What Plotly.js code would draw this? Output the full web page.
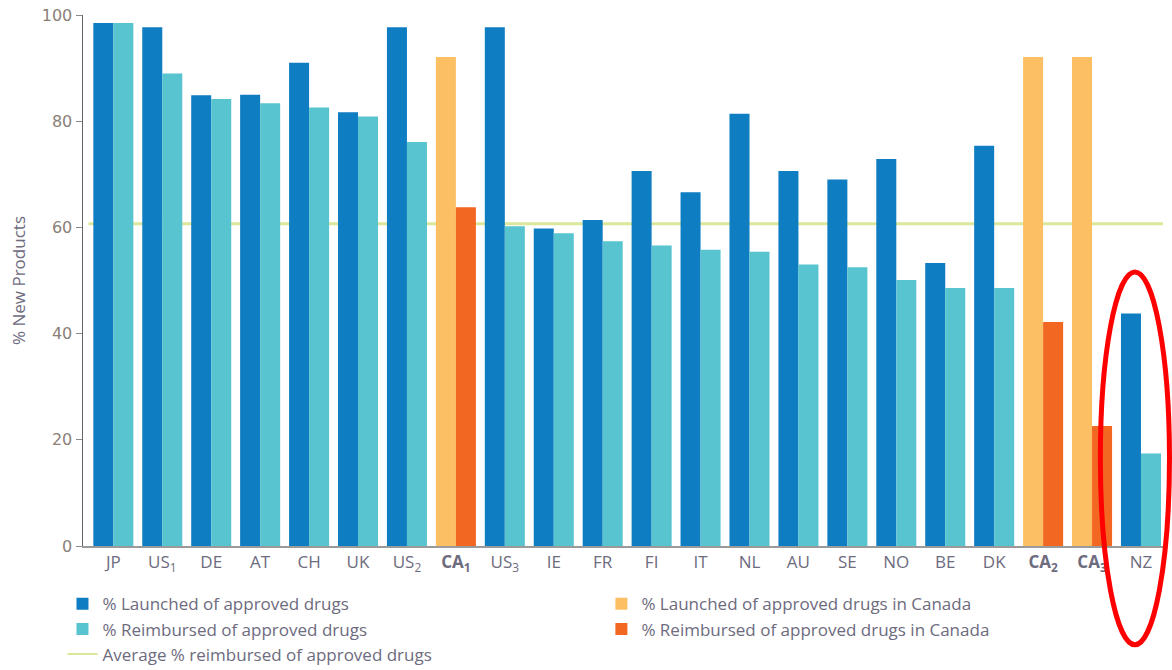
<!DOCTYPE html>
<html>
<head>
<meta charset="utf-8">
<script src="https://cdn.plot.ly/plotly-3.0.1.min.js"></script>
<style>html,body{margin:0;padding:0;background:#fff;}#chart{width:1172px;height:670px;}</style>
</head>
<body>
<div id="chart"></div>
<script>
const categories = ["JP","US<sub>1</sub>","DE","AT","CH","UK","US<sub>2</sub>","<b>CA<sub>1</sub></b>","US<sub>3</sub>","IE","FR","FI","IT","NL","AU","SE","NO","BE","DK","<b>CA<sub>2</sub></b>","<b>CA<sub>3</sub></b>","NZ"];
const launched     = [98.5, 97.7, 84.9, 85.0, 91.0, 81.7, 97.7, null, 97.7, 59.8, 61.4, 70.6, 66.6, 81.4, 70.6, 69.0, 72.9, 53.3, 75.4, null, null, 43.8];
const reimbursed   = [98.5, 89.0, 84.2, 83.4, 82.6, 80.9, 76.1, null, 60.2, 58.9, 57.4, 56.6, 55.8, 55.4, 53.0, 52.5, 50.1, 48.6, 48.6, null, null, 17.4];
const launchedCA   = [null, null, null, null, null, null, null, 92.1, null, null, null, null, null, null, null, null, null, null, null, 92.1, 92.1, null];
const reimbursedCA = [null, null, null, null, null, null, null, 63.8, null, null, null, null, null, null, null, null, null, null, null, 42.2, 22.6, null];
const avgReimbursed = 60.7;
const yTicks = [0, 20, 40, 60, 80, 100];

const C_L = "#0f7dc2", C_R = "#57c4cf", C_LCA = "#fdbf63", C_RCA = "#f26722", C_AVG = "#dbe89a";
const txt = "#6d6b7e";

const traces = [
  {type:"bar", x:categories, y:launched, name:"% Launched of approved drugs", marker:{color:C_L}, offsetgroup:"a", legend:"legend"},
  {type:"bar", x:categories, y:reimbursed, name:"% Reimbursed of approved drugs", marker:{color:C_R}, offsetgroup:"b", legend:"legend"},
  {type:"scatter", mode:"lines", x:[categories[0]], y:[avgReimbursed], name:"Average % reimbursed of approved drugs", line:{color:C_AVG, width:2}, legend:"legend", hoverinfo:"skip"},
  {type:"bar", x:categories, y:launchedCA, name:"% Launched of approved drugs in Canada", marker:{color:C_LCA}, offsetgroup:"a", legend:"legend2"},
  {type:"bar", x:categories, y:reimbursedCA, name:"% Reimbursed of approved drugs in Canada", marker:{color:C_RCA}, offsetgroup:"b", legend:"legend2"}
];

const layout = {
  width:1172, height:670,
  margin:{l:83, r:9, t:15, b:124},
  paper_bgcolor:"#fff", plot_bgcolor:"#fff",
  font:{family:"Open Sans, sans-serif", size:16, color:txt},
  barmode:"group", bargap:0.182, bargroupgap:0,
  showlegend:true,
  xaxis:{type:"category", range:[-0.62, 21.45], showgrid:false, zeroline:false, showline:true, linecolor:"#9a9a9a", linewidth:2, ticks:"", tickfont:{size:17, color:txt}, fixedrange:true},
  yaxis:{range:[0,100], tickvals:yTicks, showgrid:false, zeroline:false, showline:true, linecolor:"#666", linewidth:1.5, ticks:"outside", ticklen:6, tickcolor:"#888", tickfont:{family:"DejaVu Sans, sans-serif", size:16, color:"#8a8078"}, title:{text:"% New Products", font:{size:17, color:txt}, standoff:12}, fixedrange:true},
  legend:{x:-0.019, xanchor:"left", xref:"paper", yref:"container", y:0.125, yanchor:"top", orientation:"v", font:{size:17, color:txt}, bgcolor:"rgba(0,0,0,0)", itemwidth:30, tracegroupgap:0},
  legend2:{x:0.48, xanchor:"left", xref:"paper", yref:"container", y:0.125, yanchor:"top", orientation:"v", font:{size:17, color:txt}, bgcolor:"rgba(0,0,0,0)", itemwidth:30, tracegroupgap:0},
  shapes:[
    {type:"line", xref:"paper", yref:"y", x0:0.005, x1:1, y0:avgReimbursed, y1:avgReimbursed, line:{color:C_AVG, width:3}, layer:"below"},
    {type:"circle", xref:"paper", yref:"paper", x0:0.942, x1:1.006, y0:-0.186, y1:0.516, line:{color:"#ff0000", width:5}, layer:"above"}
  ]
};

Plotly.newPlot("chart", traces, layout, {displayModeBar:false, staticPlot:true});
</script>
</body>
</html>
